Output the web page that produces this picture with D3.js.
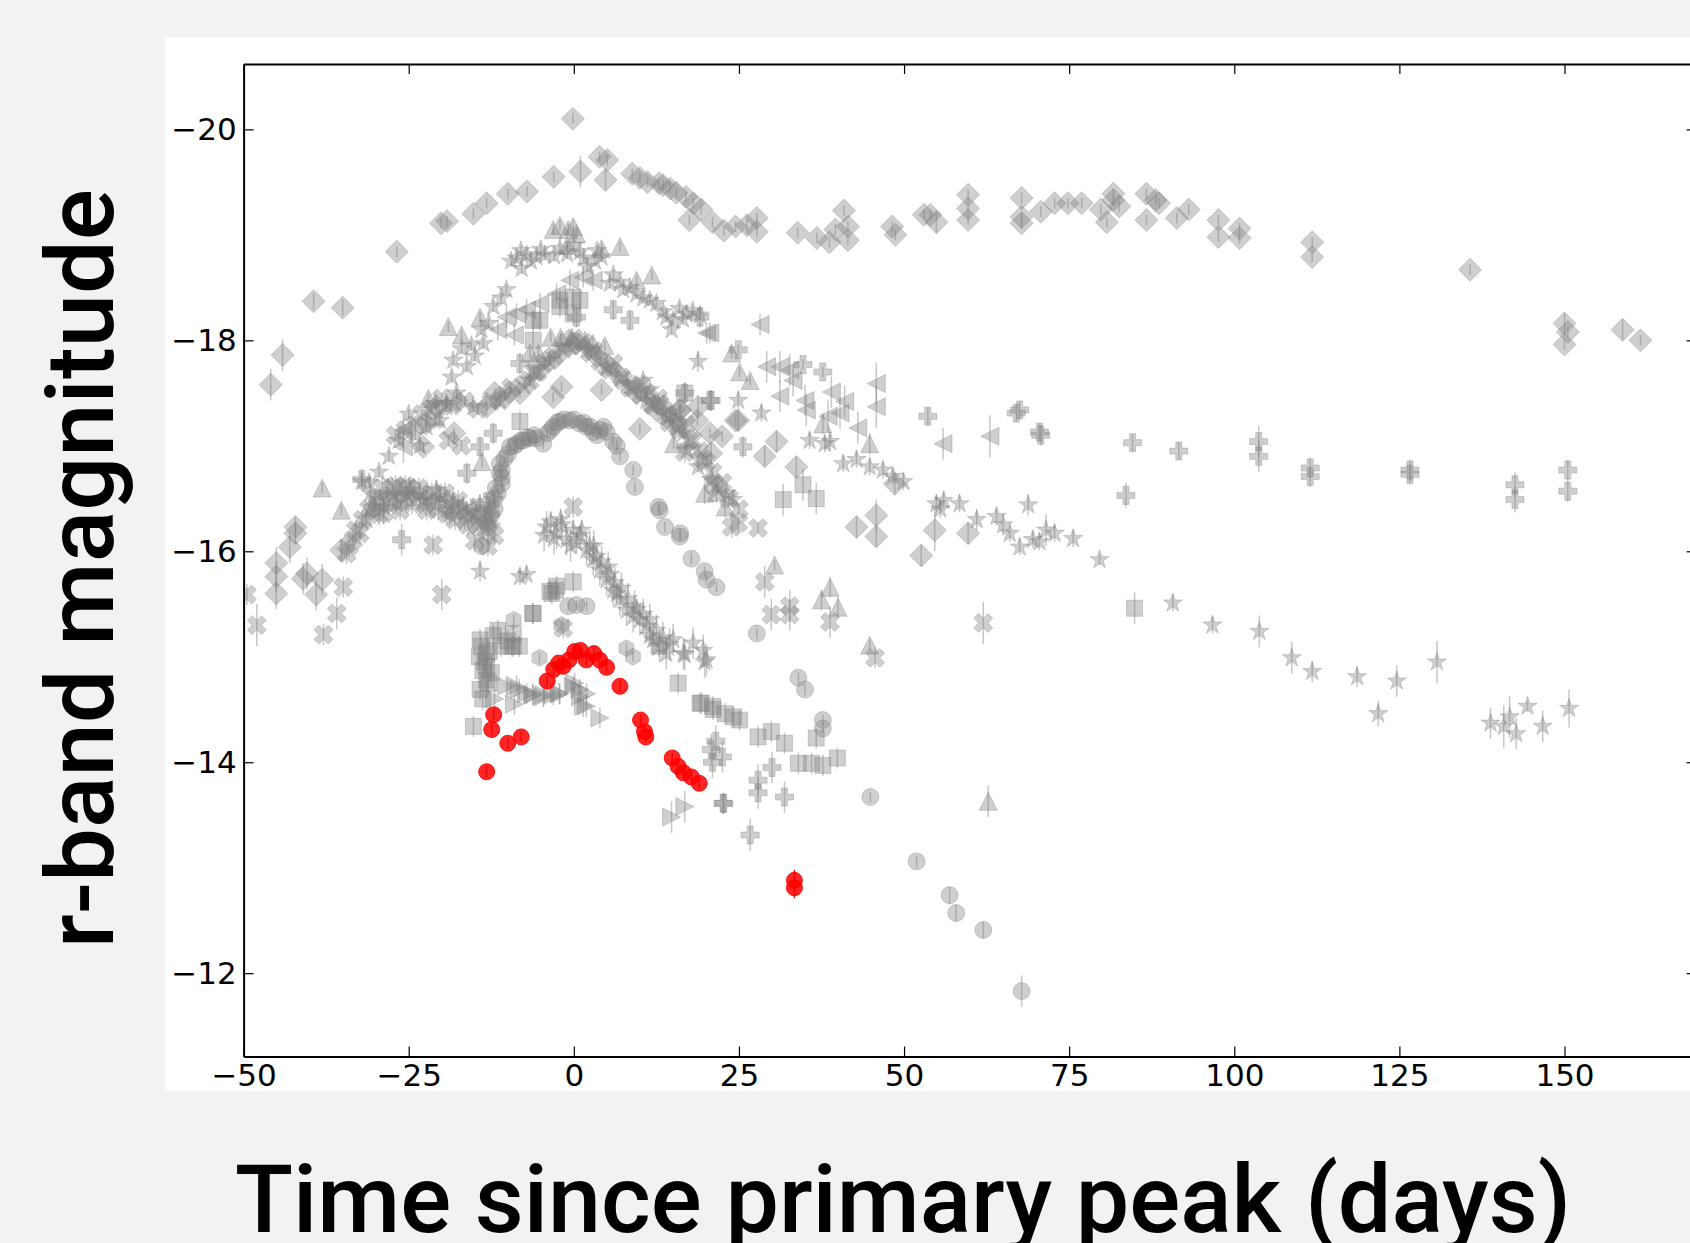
<!DOCTYPE html>
<html><head><meta charset="utf-8">
<script src="https://cdn.jsdelivr.net/npm/d3@7"></script>
<style>
html,body{margin:0;padding:0;background:#f2f2f2;}
svg{display:block;}
</style></head><body>
<svg id="chart" width="1690" height="1243"></svg>
<script>
// ---------- axis settings ----------
const xTicks = [-50, -25, 0, 25, 50, 75, 100, 125, 150];
const yTicks = [-20, -18, -16, -14, -12];
const xDomain = [-50, 170];
const yDomain = [-20.62, -11.21];
const xTitle = "Time since primary peak (days)";
const yTitle = "r-band magnitude";

// ---------- data: [days, r-band magnitude, error] ----------
const diamondPts = [
[-45.9,-17.58,0.15],[-44.1,-17.86,0.15],[-39.4,-18.37,0.08],[-35.0,-18.31,0.08],[-26.8,-18.84,0.05],[-20.1,-19.11,0.05],[-19.2,-19.13,0.05],[-15.2,-19.20,0.05],[-13.2,-19.30,0.05],[-10.0,-19.39,0.05],[-7.1,-19.41,0.05],[-3.05,-19.55,0.05],[-0.15,-20.10,0.05],[1.0,-19.60,0.15],[3.9,-19.74,0.05],[5.07,-19.71,0.05],[4.8,-19.52,0.1],[8.83,-19.58,0.05],[10.0,-19.54,0.05],[11.15,-19.50,0.05],[12.9,-19.49,0.05],[13.5,-19.47,0.05],[14.6,-19.44,0.05],[15.5,-19.40,0.05],[17.0,-19.36,0.05],[18.1,-19.30,0.05],[19.3,-19.24,0.05],[17.5,-19.14,0.05],[21.0,-19.12,0.05],[22.7,-19.04,0.05],[24.5,-19.08,0.05],[26.2,-19.09,0.05],[27.7,-19.16,0.05],[27.7,-19.03,0.05],[33.9,-19.02,0.05],[36.8,-18.97,0.05],[38.7,-18.93,0.05],[39.6,-19.05,0.05],[40.9,-19.23,0.05],[41.5,-19.08,0.05],[41.5,-18.95,0.05],[48.2,-19.08,0.05],[48.7,-19.00,0.05],[53.0,-19.19,0.05],[54.0,-19.19,0.05],[54.9,-19.12,0.1],[59.7,-19.38,0.05],[59.7,-19.25,0.05],[59.7,-19.14,0.05],[67.8,-19.35,0.05],[67.8,-19.17,0.05],[67.8,-19.11,0.05],[70.7,-19.22,0.05],[72.8,-19.30,0.05],[74.8,-19.30,0.05],[76.9,-19.30,0.05],[79.8,-19.24,0.05],[81.7,-19.39,0.05],[81.7,-19.33,0.05],[80.7,-19.12,0.05],[82.6,-19.27,0.05],[86.7,-19.39,0.05],[86.7,-19.14,0.05],[88.1,-19.33,0.05],[88.6,-19.30,0.05],[91.3,-19.16,0.05],[93.1,-19.24,0.05],[97.6,-19.14,0.05],[97.6,-18.98,0.05],[100.8,-19.06,0.05],[100.8,-18.97,0.05],[111.8,-18.93,0.05],[111.8,-18.79,0.05],[135.7,-18.67,0.05],[150.0,-18.16,0.1],[150.5,-18.08,0.05],[150.0,-17.96,0.05],[158.8,-18.10,0.1],[161.5,-18.00,0.05],
[-45.05,-15.89,0.15],[-45.05,-15.76,0.15],[-45.05,-15.60,0.15],[-42.15,-16.23,0.1],[-42.15,-16.17,0.1],[-43.0,-16.04,0.15],[-41.0,-15.74,0.15],[-40.4,-15.79,0.15],[-38.1,-15.73,0.15],[-39.0,-15.59,0.15],[-35.2,-16.01,0.1],
[4.2,-17.53,0.05],[10.0,-17.16,0.05],[18.7,-17.24,0.05],[24.5,-17.24,0.05],[22.45,-17.09,0.05],[-12.0,-17.50,0.05],[-9.7,-17.51,0.05],[-22.4,-17.21,0.05],[-18.1,-17.12,0.05],[-3.12,-17.46,0.05],[-1.86,-17.56,0.05],[16.1,-17.34,0.05],[20.6,-17.12,0.05],[-22.8,-16.99,0.05],
[-20.8,-17.37,0.05],[-17.75,-17.43,0.05],[-13.2,-17.37,0.05],[-8.16,-17.50,0.05],[-5.13,-17.72,0.05],[-2.11,-17.88,0.05],[0.41,-17.97,0.05],[3.44,-17.85,0.05],[6.47,-17.69,0.05],[9.5,-17.50,0.05],[12.5,-17.34,0.05],[15.05,-17.21,0.05],[13.5,-17.37,0.05],
[24.9,-17.24,0.1],[30.7,-17.04,0.1],[28.9,-16.90,0.1],[33.7,-16.80,0.1],[20.8,-16.93,0.1],[42.8,-16.23,0.1],[45.8,-16.34,0.15],[45.8,-16.14,0.1],[54.65,-16.20,0.2],[52.6,-15.96,0.1],[59.7,-16.17,0.1],[48.6,-16.64,0.1],[16.05,-17.34,0.1],[18.8,-17.37,0.1]
];

const starPts = [
[-9.5,-18.75,0.05],[-8.67,-18.78,0.05],[-7.9,-18.68,0.05],[-7.15,-18.81,0.05],[-5.64,-18.79,0.05],[-4.38,-18.81,0.05],[-2.11,-18.87,0.05],[0.92,-18.84,0.05],[3.19,-18.75,0.05],[4.2,-18.79,0.05],[2.0,-18.70,0.05],
[-8.0,-18.85,0.05],[-6.5,-18.75,0.05],[-5.0,-18.86,0.05],[-3.0,-18.80,0.05],[-1.0,-18.82,0.05],[0.0,-18.90,0.05],[1.5,-18.78,0.05],[3.5,-18.85,0.05],
[5.46,-18.54,0.05],[7.48,-18.48,0.05],[9.5,-18.44,0.05],[11.5,-18.38,0.05],[13.5,-18.27,0.05],[15.05,-18.19,0.05],[17.06,-18.25,0.05],[19.1,-18.24,0.05],[14.8,-18.10,0.05],[18.8,-17.80,0.1],[16.0,-18.30,0.05],
[6.0,-18.62,0.05],[7.0,-18.55,0.05],[8.5,-18.50,0.05],[10.5,-18.40,0.05],[12.5,-18.35,0.05],[14.0,-18.22,0.05],[16.5,-18.20,0.05],[18.0,-18.28,0.05],
[-10.2,-18.48,0.05],[-12.2,-18.32,0.05],[-12.9,-18.16,0.05],[-13.7,-17.97,0.05],[-17.0,-17.92,0.05],[-16.2,-17.75,0.05],[-17.75,-17.50,0.05],[-19.3,-17.37,0.05],[-20.3,-17.24,0.05],[-22.3,-17.18,0.05],[-23.3,-17.00,0.05],[-32.1,-16.66,0.05],[-15.0,-17.85,0.05],[-18.25,-17.81,0.05],
[-11.0,-18.40,0.05],[-14.0,-18.10,0.05],[-15.5,-17.95,0.05],[-18.5,-17.65,0.05],[-21.0,-17.40,0.05],[-24.0,-17.10,0.05],[-25.0,-17.30,0.05],[-26.5,-17.05,0.05],[-28.0,-16.90,0.05],[-29.5,-16.75,0.05],[-31.0,-16.65,0.05],
[-19.3,-17.40,0.05],[-15.23,-17.37,0.05],[-11.2,-17.43,0.05],[-6.65,-17.62,0.05],[-3.62,-17.81,0.05],[-0.6,-17.94,0.05],[1.93,-17.91,0.05],[4.95,-17.75,0.05],[7.98,-17.59,0.05],[11.0,-17.43,0.05],[14.0,-17.28,0.05],[16.6,-17.12,0.05],[10.5,-17.62,0.05],[11.5,-17.53,0.05],[14.5,-17.28,0.05],[17.1,-16.96,0.05],[18.8,-16.80,0.05],[20.8,-16.68,0.05],[23.1,-16.55,0.05],[24.1,-16.49,0.05],
[35.7,-17.05,0.08],[38.0,-17.02,0.08],[38.8,-17.04,0.08],[40.8,-16.83,0.08],[42.8,-16.87,0.08],[44.8,-16.80,0.08],[46.8,-16.77,0.08],[48.3,-16.71,0.08],[49.9,-16.66,0.08],[54.9,-16.45,0.08],[58.4,-16.45,0.08],[61.0,-16.30,0.1],[64.0,-16.33,0.08],[66.0,-16.17,0.08],[67.5,-16.04,0.08],[69.5,-16.11,0.08],[70.5,-16.09,0.08],[72.8,-16.17,0.08],[75.6,-16.12,0.08],[79.6,-15.92,0.05],[68.8,-16.44,0.1],[28.4,-17.31,0.08],[24.9,-17.43,0.08],[55.5,-16.40,0.08],[56.0,-16.48,0.08],[65.0,-16.25,0.1],[71.5,-16.20,0.15],
[90.7,-15.51,0.08],[96.7,-15.30,0.08],[103.8,-15.24,0.15],[108.7,-14.99,0.15],[111.8,-14.86,0.1],[118.6,-14.81,0.1],[121.8,-14.46,0.12],[124.6,-14.77,0.15],[130.7,-14.95,0.2],[138.8,-14.37,0.15],[140.8,-14.34,0.2],[141.7,-14.43,0.2],[142.7,-14.27,0.15],[144.4,-14.53,0.05],[146.7,-14.34,0.15],[150.7,-14.51,0.18],
[-4.13,-16.23,0.15],[-2.61,-16.17,0.15],[-1.1,-16.11,0.15],[-0.09,-16.20,0.1],[0.41,-16.08,0.1],[1.93,-16.01,0.15],[2.94,-15.92,0.15],[3.94,-15.82,0.15],[4.95,-15.73,0.15],[5.96,-15.63,0.15],[6.97,-15.54,0.15],[7.98,-15.44,0.15],[8.99,-15.38,0.15],[10.0,-15.35,0.15],[11.0,-15.29,0.15],[12.0,-15.16,0.15],[13.0,-15.10,0.15],[14.0,-15.03,0.15],[15.05,-15.16,0.15],[-3.5,-16.28,0.1],[-1.8,-16.25,0.1],[0.9,-16.15,0.1],[2.4,-16.05,0.15],[3.4,-15.95,0.1],[5.5,-15.78,0.1],[6.5,-15.60,0.1],[9.5,-15.45,0.1],[11.5,-15.20,0.1],[16.6,-15.03,0.15],[18.07,-15.13,0.15],[19.6,-15.06,0.15],[20.1,-14.97,0.15],[16.8,-15.02,0.15],[19.8,-14.95,0.15],
[-4.5,-16.15,0.15],[-3.0,-16.12,0.15],[-2.0,-16.30,0.1],[-0.5,-16.05,0.15],[1.2,-16.20,0.1],[3.0,-16.05,0.15],[4.2,-15.90,0.15],[5.2,-15.85,0.15],[6.2,-15.70,0.15],[7.2,-15.65,0.15],[8.2,-15.55,0.15],[9.2,-15.48,0.15],[10.5,-15.40,0.15],[11.5,-15.35,0.15],[12.5,-15.25,0.15],[13.5,-15.18,0.15],[14.5,-15.12,0.15],
[-14.2,-15.81,0.1],[-8.16,-15.76,0.08],[-7.15,-15.78,0.08],
[-31.4,-16.30,0.1],[-29.35,-16.49,0.1],[-27.3,-16.53,0.1],[-25.3,-16.53,0.1],[-23.3,-16.55,0.1],[-20.27,-16.52,0.1],[-18.25,-16.46,0.1],[-16.24,-16.38,0.1],[-14.22,-16.44,0.1],[-12.2,-16.49,0.1],
[-30.8,-16.55,0.1],[-28.8,-16.42,0.1],[-26.8,-16.45,0.1],[-24.8,-16.58,0.1],[-22.8,-16.48,0.1],[-20.8,-16.58,0.1],[-18.8,-16.35,0.1],[-16.8,-16.42,0.1],[-14.8,-16.35,0.1],[-12.8,-16.40,0.1]
];

const trianglePts = [
[-3.12,-19.05,0.05],[-2.11,-19.09,0.05],[-0.85,-19.05,0.05],[-0.09,-19.08,0.05],[0.41,-19.01,0.05],[-1.0,-18.90,0.05],[4.2,-18.87,0.05],[7.0,-18.89,0.05],[-14.2,-18.22,0.05],[-19.0,-18.13,0.05],[-17.0,-18.05,0.05],[-6.65,-17.88,0.05],[-5.39,-17.88,0.05],[-3.5,-18.03,0.05],[-2.0,-18.03,0.05],[-0.3,-18.03,0.05],[1.7,-18.00,0.05],[2.9,-17.97,0.05],[4.7,-17.95,0.05],[9.5,-18.57,0.05],[11.8,-18.62,0.05],[15.1,-17.02,0.05],[-22.0,-17.45,0.05],[-13.9,-16.85,0.05],
[44.8,-17.02,0.1],[37.7,-17.21,0.1],[30.4,-15.87,0.05],[37.5,-15.54,0.1],[40.0,-15.47,0.1],[38.8,-15.66,0.1],[44.8,-15.11,0.05],[23.9,-17.88,0.05],[25.1,-17.70,0.05],[26.7,-17.62,0.05],[19.8,-16.55,0.1],[22.9,-16.42,0.1],[21.6,-16.56,0.1],[62.75,-13.63,0.15],
[-35.2,-16.39,0.05],[-38.1,-16.60,0.05],[-30.4,-16.42,0.05]
];

const triLeftPts = [
[-10.2,-18.22,0.1],[-8.67,-18.25,0.1],[-7.15,-18.29,0.1],[-5.13,-18.35,0.1],[-2.62,-18.44,0.1],[-0.6,-18.57,0.1],[1.42,-18.60,0.1],[2.94,-18.57,0.1],[-9.0,-18.05,0.1],[-11.5,-18.10,0.1],[-25.8,-17.15,0.15],[-25.8,-16.99,0.15],
[20.6,-18.07,0.1],[28.2,-18.15,0.1],[20.1,-18.07,0.1],[29.2,-17.75,0.15],[31.2,-17.75,0.15],[32.7,-17.72,0.15],[33.2,-17.62,0.15],[31.2,-17.47,0.15],[35.0,-17.43,0.15],[35.2,-17.34,0.15],[39.0,-17.51,0.15],[41.0,-17.42,0.15],[40.3,-17.31,0.15],[45.8,-17.59,0.2],[45.8,-17.37,0.2],[43.0,-17.17,0.15],[55.9,-17.02,0.15],[63.0,-17.09,0.2],[38.5,-17.28,0.15]
];

const triRightPts = [
[-12.0,-14.60,0.1],[-10.2,-14.72,0.1],[-9.0,-14.55,0.1],[-8.67,-14.72,0.1],[-8.26,-14.69,0.1],[-7.15,-14.65,0.1],[-6.23,-14.64,0.1],[-6.15,-14.64,0.1],[-4.63,-14.62,0.1],[-4.5,-14.64,0.1],[-3.12,-14.64,0.1],[-2.2,-14.65,0.1],[-2.11,-14.65,0.1],[-0.09,-14.72,0.1],[0.14,-14.75,0.1],[0.92,-14.69,0.1],[1.0,-14.62,0.1],[1.93,-14.65,0.1],[1.42,-14.53,0.1],[1.88,-14.53,0.1],[3.95,-14.42,0.1],[14.8,-13.48,0.15],[16.8,-13.58,0.15]
];

const squarePts = [
[-6.15,-15.41,0.1],[-3.62,-15.62,0.1],[-2.6,-15.67,0.1],[-0.09,-15.71,0.1],[-3.33,-15.60,0.1],[-2.76,-15.63,0.1],[-6.23,-15.41,0.1],[-9.17,-15.22,0.1],[-9.17,-15.10,0.1],[-9.4,-15.10,0.1],[-8.26,-15.10,0.1],[-13.2,-15.03,0.1],[-13.2,-14.91,0.1],[-14.3,-15.00,0.1],[-13.77,-14.87,0.1],[-13.2,-14.78,0.1],[-14.2,-14.69,0.1],[-15.2,-14.34,0.1],[-14.2,-15.16,0.1],[-12.2,-15.20,0.1],[-11.0,-15.10,0.1],
[-14.0,-15.10,0.1],[-13.5,-14.95,0.1],[-12.8,-15.05,0.1],[-12.5,-14.85,0.1],[-13.8,-14.60,0.1],[-12.9,-14.75,0.1],[-11.5,-15.25,0.1],[-10.0,-15.15,0.1],
[12.9,-15.10,0.1],[15.8,-14.75,0.1],[19.3,-14.56,0.1],[21.0,-14.53,0.1],[24.2,-14.43,0.1],[19.1,-14.56,0.1],[21.1,-14.50,0.1],[22.9,-14.46,0.1],[25.1,-14.40,0.1],[27.9,-14.24,0.1],[29.9,-14.29,0.1],[31.9,-14.18,0.1],[34.0,-13.99,0.1],[36.0,-13.99,0.1],[37.7,-13.97,0.1],[39.9,-14.04,0.1],[36.7,-14.23,0.1],[84.9,-15.46,0.15],
[-6.15,-18.19,0.1],[-5.14,-18.19,0.1],[-2.11,-18.38,0.1],[-2.11,-18.32,0.1],[-0.09,-18.41,0.1],[-0.09,-18.25,0.1],[0.92,-18.38,0.1],[-6.15,-18.00,0.1],[-8.16,-17.23,0.1],[16.8,-17.50,0.1],
[31.7,-16.49,0.15],[34.7,-16.63,0.15],[36.7,-16.50,0.15]
];

const plusPts = [
[84.6,-17.03,0.08],[91.6,-16.95,0.08],[103.7,-17.04,0.15],[103.7,-16.90,0.15],[111.5,-16.79,0.1],[111.5,-16.71,0.1],[126.6,-16.77,0.1],[126.6,-16.73,0.1],[142.5,-16.63,0.12],[142.5,-16.49,0.12],[150.5,-16.77,0.1],[150.5,-16.57,0.1],[83.6,-16.53,0.12],[70.7,-17.10,0.1],[53.6,-17.28,0.08],[67.5,-17.34,0.08],[67.0,-17.31,0.08],[70.5,-17.13,0.08],[34.7,-17.77,0.05],[37.7,-17.70,0.05],[24.9,-17.91,0.05],[20.8,-17.43,0.1],[25.6,-16.99,0.1],[16.8,-17.50,0.1],
[22.6,-13.61,0.1],[27.9,-13.83,0.15],[27.9,-13.71,0.15],[31.9,-13.67,0.15],[26.7,-13.31,0.15],[20.8,-14.12,0.15],[22.7,-13.61,0.1],[30.0,-13.95,0.15],[21.0,-14.00,0.15],[21.5,-14.20,0.15],[22.5,-14.05,0.15],
[-16.2,-16.74,0.1],[-14.2,-16.99,0.1],[-12.2,-17.12,0.1],[-8.16,-17.78,0.1],[0.41,-18.22,0.1],[5.96,-18.29,0.1],[8.5,-18.19,0.1],[19.1,-18.22,0.1],[20.6,-17.43,0.1],[-26.07,-16.11,0.15],[-32.1,-16.68,0.1],
[-30.4,-16.42,0.1],[-28.35,-16.52,0.1],[-26.3,-16.55,0.1],[-24.3,-16.52,0.1],[-22.3,-16.53,0.1],[-19.26,-16.49,0.1],[-17.24,-16.39,0.1],[-15.23,-16.41,0.1],[-13.21,-16.47,0.1]
];

const xPts = [
[27.9,-16.22,0.05],[23.9,-16.23,0.1],[24.9,-16.27,0.1],[28.9,-15.71,0.15],[29.9,-15.40,0.15],[32.7,-15.48,0.15],[32.7,-15.40,0.15],[38.8,-15.33,0.15],[62.0,-15.32,0.2],[45.6,-14.99,0.1],[21.1,-16.63,0.1],[16.8,-16.94,0.1],
[-48.0,-15.30,0.2],[-37.9,-15.21,0.1],[-35.9,-15.41,0.15],[-34.9,-15.66,0.1],[-21.3,-16.06,0.1],[-20.0,-15.59,0.15],[-49.5,-15.59,0.1],[-0.09,-16.42,0.1],[-1.6,-15.27,0.1],
[-33.4,-16.11,0.1],[-34.4,-15.98,0.1],[-32.4,-16.17,0.1],[-29.0,-16.60,0.1],[-27.0,-16.62,0.1],[-25.0,-16.60,0.1],[-21.0,-16.45,0.1],[-18.0,-16.30,0.1],[-16.0,-16.25,0.1],[-14.0,-16.30,0.1],[-13.0,-16.20,0.1],[-15.0,-16.10,0.1],[-19.26,-16.36,0.1],[-22.3,-16.39,0.1],[-26.3,-16.39,0.1],[-28.8,-16.36,0.1],
[-34.0,-16.05,0.1],[-33.0,-16.20,0.1],[-32.0,-16.30,0.1],[-31.0,-16.40,0.1],[-30.0,-16.50,0.1],[-29.5,-16.35,0.1],[-28.0,-16.45,0.1],[-27.5,-16.60,0.1],[-26.0,-16.48,0.1],[-25.5,-16.62,0.1],[-24.5,-16.45,0.1],[-23.5,-16.60,0.1],[-22.5,-16.45,0.1],[-21.5,-16.55,0.1],[-20.5,-16.40,0.1],[-19.5,-16.55,0.1],[-18.5,-16.40,0.1],[-17.5,-16.48,0.1],[-16.5,-16.30,0.1],[-15.5,-16.35,0.1],[-14.5,-16.25,0.1],[-13.5,-16.35,0.1],[-12.5,-16.30,0.1],[-12.0,-16.15,0.1],[-13.0,-16.05,0.1],
[-27.0,-17.10,0.05],[-25.5,-17.15,0.05],[-24.0,-17.20,0.05],[-21.0,-17.25,0.05],[-19.0,-17.05,0.05],[-17.0,-17.00,0.05],
[-11.2,-17.43,0.05],[-6.65,-17.62,0.05],[-5.5,-17.70,0.05],[-3.62,-17.81,0.05],[-1.5,-17.92,0.05],[1.0,-17.95,0.05],[2.6,-17.88,0.05],[4.95,-17.75,0.05],[7.2,-17.65,0.05],[8.5,-17.55,0.05],[10.2,-17.48,0.05],[11.8,-17.40,0.05],[14.0,-17.28,0.05],[15.8,-17.18,0.05],[12.8,-17.45,0.05],[17.5,-17.05,0.05],[19.5,-16.88,0.05],[21.8,-16.60,0.05],
[-23.0,-17.30,0.05],[-21.5,-17.35,0.05],[-20.0,-17.45,0.05],[-18.5,-17.38,0.05],[-16.5,-17.42,0.05],[-14.5,-17.35,0.05],[-12.5,-17.42,0.05],[-10.5,-17.48,0.05],[-9.5,-17.55,0.05],[-7.5,-17.58,0.05],[-6.0,-17.70,0.05],[-4.5,-17.78,0.05],[-3.0,-17.85,0.05],[-1.0,-17.98,0.05],[0.0,-18.02,0.05],[1.5,-17.98,0.05],[3.0,-17.90,0.05],[4.0,-17.80,0.05],[5.5,-17.72,0.05],[6.0,-17.78,0.05],[7.5,-17.62,0.05],[9.0,-17.55,0.05],[10.0,-17.58,0.05],[11.0,-17.50,0.05],[12.0,-17.38,0.05],[13.0,-17.40,0.05],[14.5,-17.22,0.05],[15.5,-17.30,0.05],[16.0,-17.15,0.05],[17.0,-17.20,0.05],[18.0,-17.05,0.05],[19.0,-16.95,0.05],[20.0,-16.85,0.05],[21.0,-16.75,0.05],[22.5,-16.65,0.05],[23.5,-16.50,0.05],[25.0,-16.40,0.05]
];

const circlePts = [
[-13.96,-16.05,0.05],[-12.96,-16.23,0.05],[-13.2,-16.27,0.05],[-12.0,-16.40,0.05],[-11.5,-16.55,0.05],[-10.9,-16.77,0.05],[-10.9,-16.70,0.05],[-10.9,-16.64,0.05],[-11.2,-16.74,0.05],[-11.2,-16.83,0.05],[-9.68,-16.99,0.05],[-8.66,-17.02,0.05],[-8.0,-17.05,0.05],[-7.66,-17.05,0.05],[-6.65,-17.07,0.05],[-5.64,-17.07,0.05],[-4.63,-17.02,0.05],[-3.12,-17.18,0.05],[-2.11,-17.23,0.05],[-0.6,-17.24,0.05],[0.92,-17.21,0.05],[1.93,-17.18,0.05],[2.94,-17.13,0.05],[3.95,-17.15,0.05],[4.96,-17.13,0.05],[5.96,-17.04,0.05],[9.0,-16.77,0.05],[9.24,-16.61,0.05],[12.8,-16.42,0.05],[13.0,-16.39,0.05],[13.8,-16.23,0.05],[16.1,-16.17,0.05],[16.05,-16.14,0.05],[17.8,-15.93,0.05],[19.8,-15.81,0.05],[20.1,-15.73,0.05],[21.6,-15.66,0.05],[27.7,-15.22,0.05],[34.0,-14.80,0.05],[35.0,-14.69,0.05],[37.7,-14.40,0.05],[37.7,-14.32,0.05],[44.9,-13.67,0.05],[51.9,-13.06,0.05],[56.9,-12.74,0.08],[57.9,-12.57,0.08],[62.0,-12.41,0.08],[67.8,-11.83,0.15],
[-12.5,-16.35,0.05],[-12.0,-16.50,0.05],[-11.8,-16.60,0.05],[-10.5,-16.88,0.05],[-10.0,-16.92,0.05],[-9.0,-17.00,0.05],[-7.0,-17.08,0.05],[-6.0,-17.10,0.05],[-4.0,-17.12,0.05],[-3.5,-17.15,0.05],[-2.5,-17.22,0.05],[-1.5,-17.25,0.05],[0.0,-17.25,0.05],[1.5,-17.22,0.05],[2.5,-17.18,0.05],[3.5,-17.10,0.05],[4.5,-17.18,0.05],[6.5,-17.00,0.05],[7.0,-16.90,0.05],
[-0.85,-15.48,0.05],[0.41,-15.49,0.05],[1.93,-15.48,0.05]
];

const hexPts = [
[-9.1,-15.35,0.05],[-5.2,-14.99,0.05],[-1.9,-15.30,0.05],[7.96,-15.08,0.05],[8.95,-15.00,0.05]
];

const redPts = [
[-13.2,-13.91,0.05],[-12.14,-14.45,0.05],[-12.43,-14.31,0.05],[-10.0,-14.18,0.05],[-7.97,-14.24,0.05],[-4.03,-14.77,0.05],[-3.05,-14.88,0.05],[-2.29,-14.94,0.05],[-1.6,-14.91,0.05],[-0.73,-14.97,0.05],[0.14,-15.05,0.05],[1.0,-15.06,0.05],[1.88,-14.97,0.05],[3.04,-15.03,0.05],[3.9,-14.97,0.05],[4.95,-14.90,0.05],[6.98,-14.72,0.05],[10.1,-14.40,0.05],[10.7,-14.29,0.05],[10.9,-14.24,0.05],[14.9,-14.04,0.05],[15.8,-13.96,0.05],[16.6,-13.90,0.05],[17.8,-13.86,0.05],[19.0,-13.80,0.05],[33.4,-12.88,0.1],[33.4,-12.81,0.1]
];

// ---------- marker shapes (d3.symbol custom types, size = half extent) ----------
function poly(c, pts){ c.moveTo(pts[0][0], pts[0][1]); for (let i=1;i<pts.length;i++) c.lineTo(pts[i][0], pts[i][1]); c.closePath(); }
const symDiamond = {draw(c,r){ poly(c, [[0,-r],[r,0],[0,r],[-r,0]]); }};
const symCircle = {draw(c,r){ c.moveTo(r,0); c.arc(0,0,r,0,2*Math.PI); c.closePath(); }};
const symSquare = {draw(c,r){ poly(c, [[-r,-r],[r,-r],[r,r],[-r,r]]); }};
const symTriUp = {draw(c,r){ poly(c, [[0,-r],[r,r],[-r,r]]); }};
const symTriLeft = {draw(c,r){ poly(c, [[-r,0],[r,-r],[r,r]]); }};
const symTriRight = {draw(c,r){ poly(c, [[r,0],[-r,-r],[-r,r]]); }};
const symStar = {draw(c,r){ const p=[]; for(let i=0;i<10;i++){ const a=-Math.PI/2+i*Math.PI/5; const rr = i%2 ? r*0.382 : r; p.push([rr*Math.cos(a), rr*Math.sin(a)]); } poly(c,p); }};
function plusPoly(r, rot){ const a=r/3; const base=[[-a,-r],[a,-r],[a,-a],[r,-a],[r,a],[a,a],[a,r],[-a,r],[-a,a],[-r,a],[-r,-a],[-a,-a]]; const cs=Math.cos(rot), sn=Math.sin(rot); return base.map(([x,y])=>[x*cs-y*sn, x*sn+y*cs]); }
const symPlus = {draw(c,r){ poly(c, plusPoly(r,0)); }};
const symX = {draw(c,r){ poly(c, plusPoly(r,Math.PI/4)); }};
const symHex = {draw(c,r){ const p=[]; for(let i=0;i<6;i++){ const a=-Math.PI/2+i*Math.PI/3; p.push([r*Math.cos(a), r*Math.sin(a)]); } poly(c,p); }};

const series = [
  {pts: diamondPts, type: symDiamond, r: 11.5, color: "#808080"},
  {pts: squarePts, type: symSquare, r: 8, color: "#808080"},
  {pts: triLeftPts, type: symTriLeft, r: 9, color: "#808080"},
  {pts: triRightPts, type: symTriRight, r: 9, color: "#808080"},
  {pts: trianglePts, type: symTriUp, r: 9, color: "#808080"},
  {pts: plusPts, type: symPlus, r: 9, color: "#808080"},
  {pts: xPts, type: symX, r: 10, color: "#808080"},
  {pts: starPts, type: symStar, r: 10, color: "#808080"},
  {pts: hexPts, type: symHex, r: 8.5, color: "#808080"},
  {pts: circlePts, type: symCircle, r: 8.5, color: "#808080"},
];

// ---------- layout ----------
const svg = d3.select("#chart");
const L = 243.6, T = 64, B = 1056.5;
const x = d3.scaleLinear().domain(xDomain).range([L, L + 220*6.6045]);
const y = d3.scaleLinear().domain(yDomain).range([T, B]);
const R = x(xDomain[1]);

svg.append("rect").attr("x",0).attr("y",0).attr("width",1690).attr("height",1243).attr("fill","#f2f2f2");
svg.append("rect").attr("x",165).attr("y",37.5).attr("width",1690-165).attr("height",1091-37.5).attr("fill","#ffffff");

svg.append("clipPath").attr("id","plotclip").append("rect")
  .attr("x",L).attr("y",T).attr("width",R-L).attr("height",B-T);

const plot = svg.append("g").attr("clip-path","url(#plotclip)");

function drawSeries(s, fillOp, strokeOp, errColor, errOp){
  const g = plot.append("g");
  g.selectAll("line").data(s.pts).join("line")
    .attr("x1", d=>x(d[0])).attr("x2", d=>x(d[0]))
    .attr("y1", d=>y(d[1]-d[2])).attr("y2", d=>y(d[1]+d[2]))
    .attr("stroke", errColor).attr("stroke-opacity", errOp).attr("stroke-width", 1.5);
  const sym = d3.symbol().type(s.type).size(s.r);
  g.selectAll("path").data(s.pts).join("path")
    .attr("d", sym)
    .attr("transform", d=>`translate(${x(d[0])},${y(d[1])})`)
    .attr("fill", s.color).attr("fill-opacity", fillOp)
    .attr("stroke", s.color).attr("stroke-opacity", strokeOp).attr("stroke-width", 1);
}
series.forEach(s => drawSeries(s, 0.38, 0.35, "#808080", 0.45));
drawSeries({pts: redPts, type: symCircle, r: 8, color: "#ff0000"}, 0.85, 0.85, "#cc0000", 0.9);

// ---------- axes ----------
const fmt = d3.format("d");
const axStyle = g => {
  g.selectAll(".domain").attr("stroke","#000").attr("stroke-width",2);
  g.selectAll(".tick line").attr("stroke","#000").attr("stroke-width",1.2);
  g.selectAll(".tick text").attr("fill","#000").style("font-family","'DejaVu Sans', sans-serif").style("font-size","31px");
};
svg.append("g").attr("transform",`translate(0,${B})`)
  .call(d3.axisBottom(x).tickValues(xTicks).tickFormat(fmt).tickSizeInner(-10).tickSizeOuter(0).tickPadding(7))
  .call(axStyle);
svg.append("g").attr("transform",`translate(0,${T})`)
  .call(d3.axisTop(x).tickValues(xTicks).tickFormat("").tickSizeInner(-10).tickSizeOuter(0))
  .call(axStyle);
svg.append("g").attr("transform",`translate(${L},0)`)
  .call(d3.axisLeft(y).tickValues(yTicks).tickFormat(fmt).tickSizeInner(-10).tickSizeOuter(0).tickPadding(7))
  .call(axStyle);
svg.append("g").attr("transform",`translate(${R},0)`)
  .call(d3.axisRight(y).tickValues(yTicks).tickFormat("").tickSizeInner(-10).tickSizeOuter(0))
  .call(axStyle);

// ---------- titles ----------
svg.append("text")
  .attr("x", 235).attr("y", 1232)
  .attr("textLength", 1336).attr("lengthAdjust","spacingAndGlyphs")
  .style("font-family","Roboto, 'Noto Sans', sans-serif").style("font-weight",500).style("font-size","94px")
  .attr("fill","#000").text(xTitle);
svg.append("text")
  .attr("transform","translate(113,948) rotate(-90)")
  .attr("x", 0).attr("y", 0)
  .attr("textLength", 759).attr("lengthAdjust","spacingAndGlyphs")
  .style("font-family","Roboto, 'Noto Sans', sans-serif").style("font-weight",500).style("font-size","95px")
  .attr("fill","#000").text(yTitle);
</script>
</body></html>
